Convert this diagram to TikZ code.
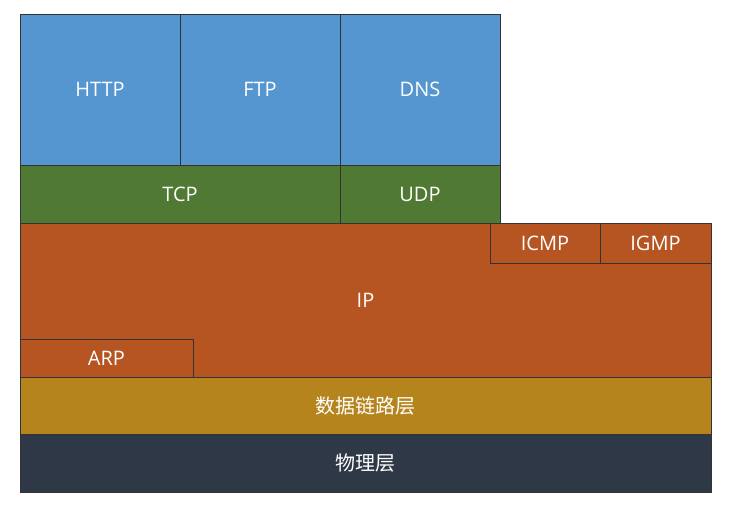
\documentclass[tikz,border=0pt]{standalone}
\usepackage{fontspec}
\setmainfont{Open Sans}
\newfontfamily\cjk{Noto Sans CJK SC}
\usetikzlibrary{positioning}
\definecolor{appblue}{HTML}{5596D0}
\definecolor{tpgreen}{HTML}{507A33}
\definecolor{iporange}{HTML}{B65522}
\definecolor{linkgold}{HTML}{B5841C}
\definecolor{phydark}{HTML}{2E3846}
\tikzset{
  layerbox/.style={draw=black!80, line width=0.6pt, text=white, font=\fontsize{20}{24}\selectfont,
    inner sep=0pt, outer sep=0pt}
}
\begin{document}
\begin{tikzpicture}[x=1pt, y=-1pt]
\useasboundingbox (0,0) rectangle (733,517);
        % Application layer
        \node[layerbox, fill=appblue, minimum width=160pt, minimum height=151pt, anchor=north west] at (20,14)  (http) {HTTP};
        \node[layerbox, fill=appblue, minimum width=160pt, minimum height=151pt, right=0pt of http] (ftp) {FTP};
        \node[layerbox, fill=appblue, minimum width=160pt, minimum height=151pt, right=0pt of ftp]  (dns) {DNS};
        % Transport layer
        \node[layerbox, fill=tpgreen, minimum width=320pt, minimum height=58pt, anchor=north west] at (20,165) (tcp) {TCP};
        \node[layerbox, fill=tpgreen, minimum width=160pt, minimum height=58pt, right=0pt of tcp] (udp) {UDP};
        % Network layer
        \node[layerbox, fill=iporange, minimum width=691pt, minimum height=154pt, anchor=north west] at (20,223) (ip) {IP};
        \node[layerbox, fill=iporange, minimum width=111pt, minimum height=40pt, anchor=north east] at (ip.north east) (igmp) {IGMP};
        \node[layerbox, fill=iporange, minimum width=110pt, minimum height=40pt, left=0pt of igmp] (icmp) {ICMP};
        \node[layerbox, fill=iporange, minimum width=173pt, minimum height=38pt, anchor=south west] at (ip.south west) (arp) {ARP};
        % Link and physical layers
        \node[layerbox, fill=linkgold, minimum width=691pt, minimum height=57pt, below=0pt of ip] (link) {\cjk 数据链路层};
        \node[layerbox, fill=phydark, minimum width=691pt, minimum height=58pt, below=0pt of link] (phy) {\cjk 物理层};
\end{tikzpicture}
\end{document}
